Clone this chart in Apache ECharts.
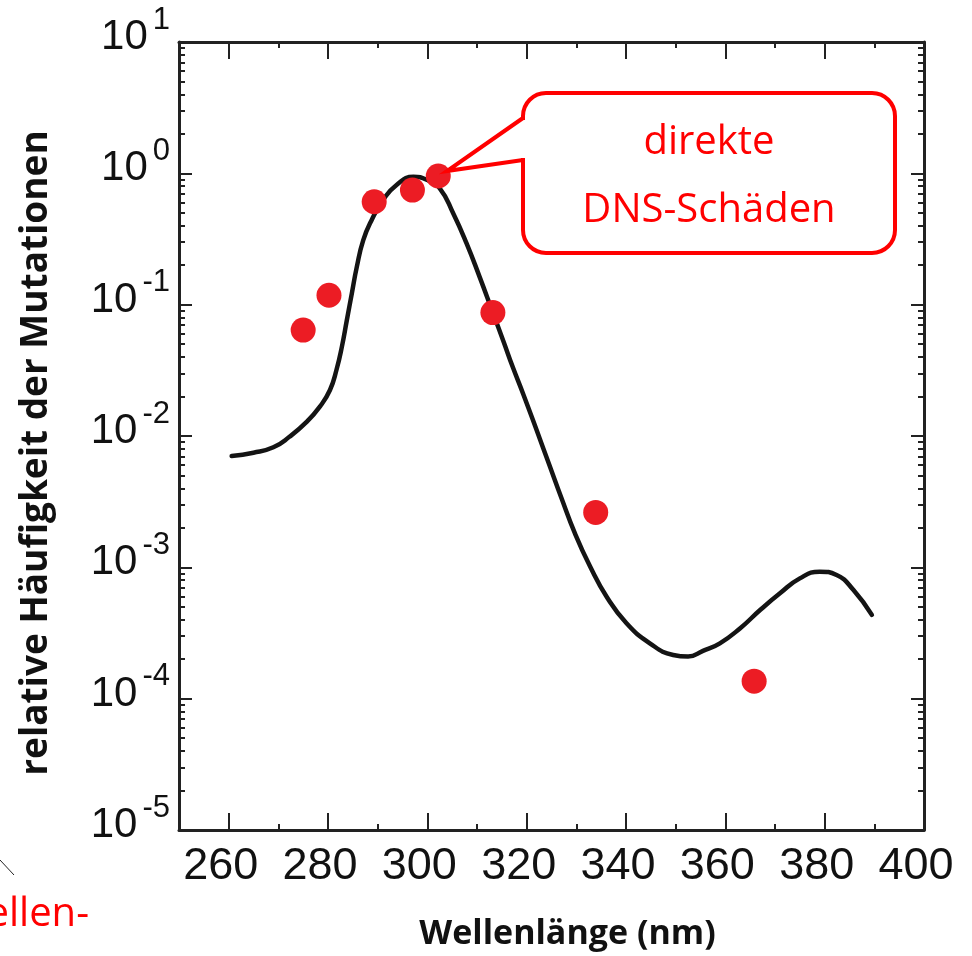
<!DOCTYPE html>
<html>
<head>
<meta charset="utf-8">
<script src="https://cdn.jsdelivr.net/npm/echarts@6/dist/echarts.min.js"></script>
<style>
  html, body { margin: 0; padding: 0; background: #fff; }
  #chart { width: 972px; height: 956px; }
</style>
</head>
<body>
<div id="chart"></div>
<script>
// Modellkurve (Wellenlänge in nm, relative Häufigkeit)
const curveX = [260.6, 265.0, 269.0, 272.3, 275.7, 278.4, 280.4, 281.7, 282.8, 283.8, 284.8, 285.8, 287.1, 288.8, 291.1, 293.8, 297.2,
  300.0, 302.5, 305.2, 307.9, 310.6, 313.0, 315.3, 317.2, 319.3, 322.0, 324.7, 327.0, 329.7, 332.8, 336.1, 340.1, 344.8, 349.5, 352.5,
  355.5, 358.9, 363.0, 367.0, 371.0, 375.0, 379.0, 382.4, 385.8, 389.5];
const curveY = [0.00705, 0.00746, 0.0082, 0.0099, 0.0128, 0.0168, 0.0224, 0.0318, 0.0479, 0.0764, 0.122, 0.194, 0.31, 0.442, 0.627, 0.815, 0.942,
  0.889, 0.769, 0.497, 0.293, 0.16, 0.0911, 0.0529, 0.0335, 0.0209, 0.0111, 0.00583, 0.00337, 0.00182, 0.00101, 0.000597, 0.000375, 0.000264, 0.000215, 0.000209,
  0.000231, 0.000264, 0.000344, 0.000473, 0.000634, 0.000824, 0.000927, 0.000875, 0.000671, 0.000434];

// Messpunkte
const dotX = [275, 280.2, 289.3, 297.0, 302.2, 313.2, 333.9, 365.8];
const dotY = [0.064, 0.118, 0.608, 0.746, 0.954, 0.087, 0.00262, 0.000136];

// Achsen
const xLabelValues = [260, 280, 300, 320, 340, 360, 380, 400];
const xMajorTicks = [260, 280, 300, 320, 340, 360, 380];
const xMinorTicks = [270, 290, 310, 330, 350, 370, 390];

const chart = echarts.init(document.getElementById("chart"));

const axisColor = "#222";
const labelFont = "Liberation Sans";

const logAxis = (pos, withLabels) => ({
  type: "log",
  logBase: 10,
  min: 0.00001,
  max: 10,
  position: pos,
  axisLine: { show: true, lineStyle: { color: axisColor, width: 3 } },
  axisTick: { show: true, inside: true, length: 13, lineStyle: { color: axisColor, width: 2 } },
  minorTick: { show: true, splitNumber: 9, length: 6, lineStyle: { color: axisColor, width: 2 } },
  splitLine: { show: false },
  axisLabel: withLabels
    ? {
        show: true,
        margin: 9,
        padding: [0, 0, 11, 0],
        formatter: function (v) {
          const p = Math.round(Math.log10(v));
          return "{b|10}{e|" + p + "}";
        },
        rich: {
          b: { fontSize: 42, lineHeight: 44, fontFamily: labelFont, color: "#111", verticalAlign: "bottom" },
          e: { fontSize: 31, lineHeight: 32, fontFamily: labelFont, color: "#111", verticalAlign: "bottom", padding: [0, 0, 23, 5] },
        },
      }
    : { show: false },
});

const valAxis = (pos, ticks, len, showLine, labels) => ({
  type: "value",
  min: 250,
  max: 400,
  position: pos,
  axisLine: { show: showLine, onZero: false, lineStyle: { color: axisColor, width: 3 } },
  axisTick: { show: true, inside: true, length: len, customValues: ticks, lineStyle: { color: axisColor, width: 2 } },
  splitLine: { show: false },
  axisLabel: labels
    ? { show: true, customValues: xLabelValues, margin: 14, padding: [0, 16, 0, 0], fontSize: 45, fontFamily: labelFont, color: "#111" }
    : { show: false },
});

const bottomAxis = valAxis("bottom", xMajorTicks, 17, true, true);
bottomAxis.name = "Wellenlänge (nm)";
bottomAxis.nameLocation = "middle";
bottomAxis.nameGap = 87;
bottomAxis.nameTextStyle = {
  fontFamily: "Open Sans",
  fontWeight: "bold",
  fontSize: 34,
  color: "#111",
  padding: [0, 0, 0, 32],
};

const leftAxis = logAxis("left", true);
leftAxis.name = "relative Häufigkeit der Mutationen";
leftAxis.nameLocation = "middle";
leftAxis.nameGap = 124;
leftAxis.nameTextStyle = {
  fontFamily: "Open Sans",
  fontWeight: "bold",
  fontSize: 37,
  color: "#111",
  padding: [0, 34, 0, 0],
};

const option = {
  backgroundColor: "#fff",
  animation: false,
  grid: { left: 179, top: 42, right: 48, bottom: 126, containLabel: false },
  xAxis: [
    bottomAxis,
    valAxis("bottom", xMinorTicks, 6, false, false),
    valAxis("top", xMajorTicks, 17, true, false),
    valAxis("top", xMinorTicks, 6, false, false),
  ],
  yAxis: [leftAxis, logAxis("right", false)],
  series: [
    {
      name: "Modell",
      type: "line",
      xAxisIndex: 0,
      yAxisIndex: 0,
      smooth: 0.5,
      showSymbol: false,
      symbol: "none",
      lineStyle: { color: "#141414", width: 4.5, cap: "round" },
      data: curveX.map((x, i) => [x, curveY[i]]),
      z: 2,
    },
    {
      name: "Messung",
      type: "scatter",
      xAxisIndex: 0,
      yAxisIndex: 0,
      symbolSize: 25,
      itemStyle: { color: "#ec1c24", opacity: 1 },
      data: dotX.map((x, i) => [x, dotY[i]]),
      z: 3,
    },
  ],
  graphic: [
    {
      type: "rect",
      shape: { x: 523, y: 93, width: 372, height: 160, r: 23 },
      style: { fill: "#fff", stroke: "#ff0000", lineWidth: 4 },
      z: 10,
    },
    {
      type: "rect",
      shape: { x: 519, y: 120, width: 8, height: 38 },
      style: { fill: "#fff" },
      z: 11,
    },
    {
      type: "polyline",
      shape: { points: [[523, 118], [447, 171], [523, 160]] },
      style: { stroke: "#ff0000", lineWidth: 4, fill: null },
      z: 12,
    },
    {
      type: "text",
      x: 709,
      y: 143,
      style: {
        text: "direkte",
        fontFamily: "Open Sans",
        fontSize: 40,
        fill: "#ff0000",
        textAlign: "center",
        textVerticalAlign: "middle",
      },
      z: 12,
    },
    {
      type: "text",
      x: 709,
      y: 211,
      style: {
        text: "DNS-Schäden",
        fontFamily: "Open Sans",
        fontSize: 40,
        fill: "#ff0000",
        textAlign: "center",
        textVerticalAlign: "middle",
      },
      z: 12,
    },
    {
      type: "text",
      x: 89,
      y: 915,
      style: {
        text: "Wellen-",
        fontFamily: "Open Sans",
        fontSize: 40,
        fill: "#ff0000",
        textAlign: "right",
        textVerticalAlign: "middle",
      },
      z: 12,
    },
    {
      type: "line",
      shape: { x1: 0, y1: 860, x2: 14, y2: 875 },
      style: { stroke: "#222", lineWidth: 1 },
      z: 12,
    },
  ],
};

chart.setOption(option);
</script>
</body>
</html>
